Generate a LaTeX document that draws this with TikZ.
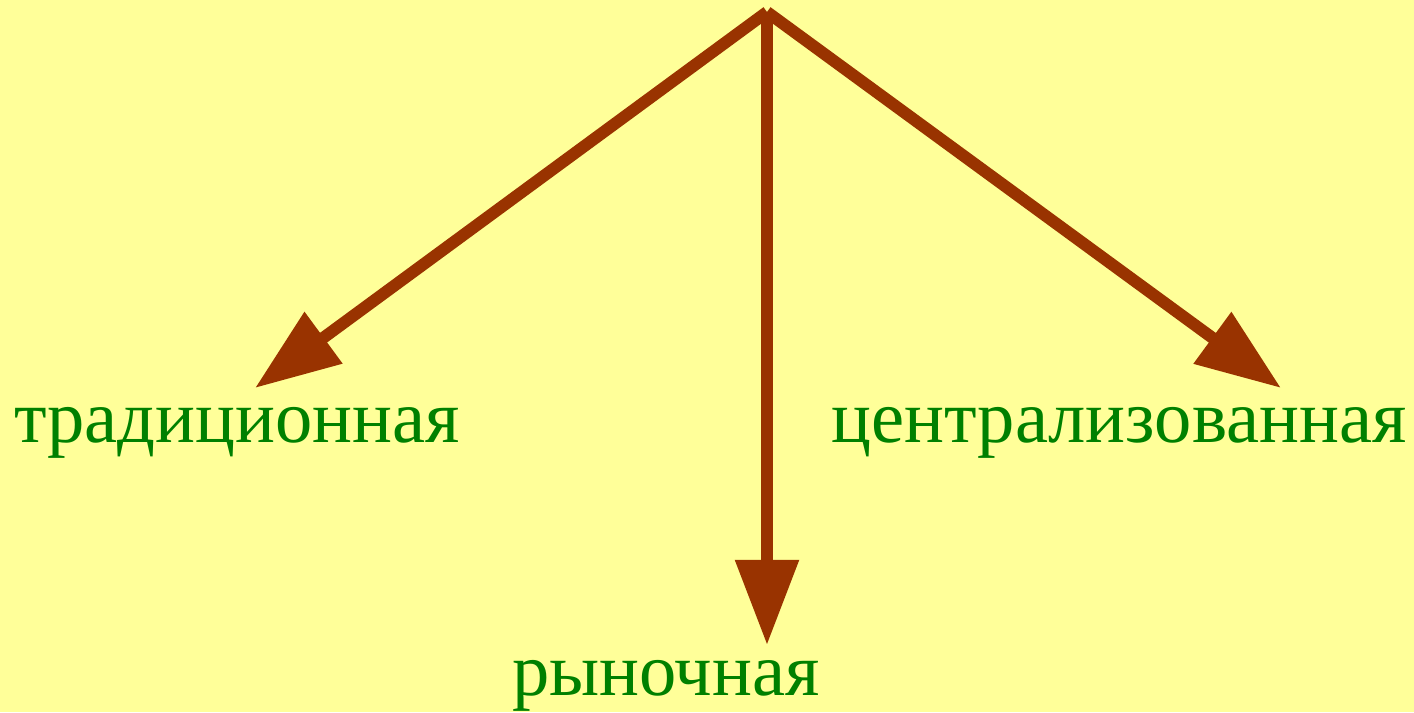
\documentclass[tikz,border=0pt]{standalone}
\usepackage{fontspec}
\setmainfont{Liberation Serif}
\usetikzlibrary{arrows.meta}
\definecolor{bgcol}{HTML}{FFFF99}
\definecolor{arrcol}{HTML}{993300}
\definecolor{txtcol}{HTML}{008000}

\begin{document}
\begin{tikzpicture}[x=0.025cm, y=-0.025cm,
    kind/.style={text=txtcol, font=\fontsize{53}{64}\selectfont, inner sep=0pt},
    branch/.style={draw=arrcol, line width=8.5pt, -{Triangle[length=60.5pt, width=43.4pt]}}]
    \fill[bgcol] (0,0) rectangle (1414,712);
    \useasboundingbox (0,0) rectangle (1414,712);

    \coordinate (top) at (767,12);
    \coordinate (tradtip) at (255,388);
    \coordinate (markettip) at (767,645);
    \coordinate (centraltip) at (1281,388);

    \node[kind, anchor=base] (trad) at (237,442) {традиционная};
    \node[kind, anchor=base] (market) at (666,695) {рыночная};
    \node[kind, anchor=base] (central) at (1119,442) {централизованная};

    \draw[branch] (top) -- (tradtip);
    \draw[branch] (top) -- (markettip);
    \draw[branch] (top) -- (centraltip);
  \end{tikzpicture}
\end{document}
